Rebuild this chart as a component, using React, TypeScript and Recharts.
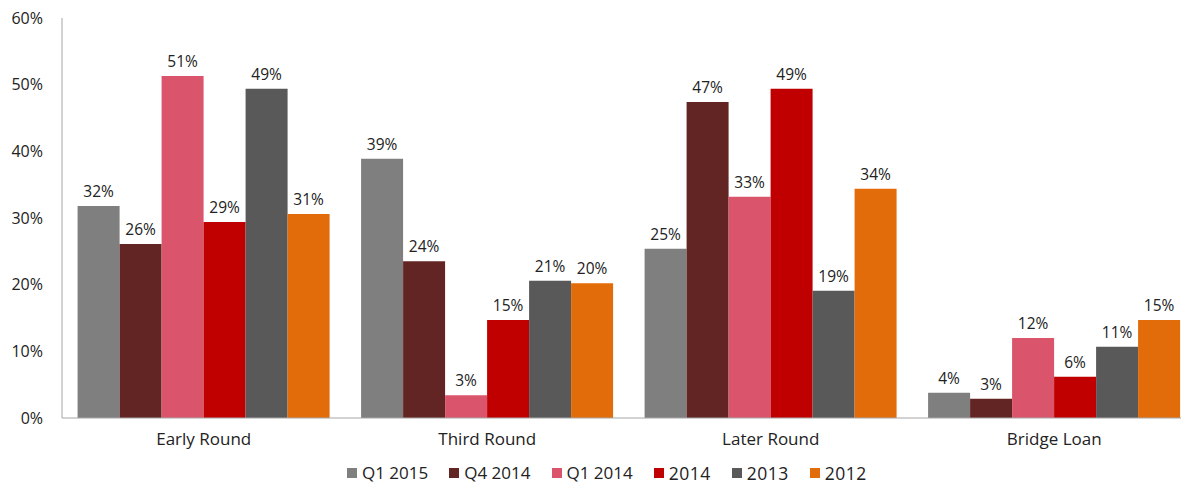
import { BarChart, Bar, XAxis, YAxis, Legend, LabelList } from 'recharts';

const categories = ['Early Round', 'Third Round', 'Later Round', 'Bridge Loan'];
const q1_2015 = [31.8, 38.9, 25.4, 3.8];
const q4_2014 = [26.1, 23.5, 47.4, 2.9];
const q1_2014 = [51.3, 3.4, 33.2, 12.0];
const y2014 = [29.4, 14.7, 49.4, 6.2];
const y2013 = [49.4, 20.6, 19.1, 10.7];
const y2012 = [30.6, 20.2, 34.4, 14.7];
const yTicks = [0, 10, 20, 30, 40, 50, 60];

const series = [
  { key: 'q1_2015', name: 'Q1 2015', values: q1_2015, color: '#7F7F7F' },
  { key: 'q4_2014', name: 'Q4 2014', values: q4_2014, color: '#632523' },
  { key: 'q1_2014', name: 'Q1 2014', values: q1_2014, color: '#DA546B' },
  { key: 'y2014', name: '2014', values: y2014, color: '#C00000' },
  { key: 'y2013', name: '2013', values: y2013, color: '#595959' },
  { key: 'y2012', name: '2012', values: y2012, color: '#E36C0A' },
];

const data = categories.map((name, i) => {
  const row: Record<string, string | number> = { name };
  series.forEach((s) => { row[s.key] = s.values[i]; });
  return row;
});

const font = '"Open Sans", sans-serif';

function LegendContent() {
  return (
    <div style={{ display: 'flex', paddingLeft: 347, gap: 21, fontFamily: font, color: '#222', height: 20, lineHeight: '20px' }}>
      {series.map((s) => (
        <div key={s.key} style={{ display: 'flex', alignItems: 'center' }}>
          <span style={{ display: 'inline-block', width: 10, height: 10, background: s.color, marginRight: 5 }} />
          <span style={{ fontSize: s.name.startsWith('Q') ? 17 : 17.5, letterSpacing: s.name.startsWith('Q') ? 0 : 0.5 }}>{s.name}</span>
        </div>
      ))}
    </div>
  );
}

export default function App() {
  return (
    <div style={{ position: 'fixed', left: 0, top: 0, width: 1181, height: 484, overflow: 'hidden', background: '#fff' }}>
      <BarChart
        width={1196}
        height={484}
        data={data}
        margin={{ top: 18, right: 0, left: 0, bottom: 0 }}
        barCategoryGap="5.5%"
        barGap={0}
      >
        <XAxis
          dataKey="name"
          height={66}
          axisLine={{ stroke: '#A6A6A6' }}
          tickLine={false}
          tickSize={0}
          tickMargin={15}
          tick={{ fontFamily: font, fontSize: 17, fill: '#222' }}
        />
        <YAxis
          width={62}
          domain={[0, 60]}
          ticks={yTicks}
          axisLine={{ stroke: '#A6A6A6' }}
          tickLine={false}
          tickSize={0}
          tickMargin={19}
          tickFormatter={(v: number) => `${v}%`}
          tick={{ fontFamily: font, fontSize: 16, fill: '#222' }}
        />
        <Legend
          layout="horizontal"
          verticalAlign="middle"
          content={<LegendContent />}
          wrapperStyle={{ top: 463, left: 0, width: 1181, height: 20 }}
        />
        {series.map((s) => (
          <Bar key={s.key} dataKey={s.key} name={s.name} fill={s.color} isAnimationActive={false}>
            <LabelList
              dataKey={s.key}
              position="top"
              offset={9}
              formatter={(v: number) => `${Math.round(v)}%`}
              style={{ fontFamily: font, fontSize: 15.5, fill: '#222' }}
            />
          </Bar>
        ))}
      </BarChart>
    </div>
  );
}
